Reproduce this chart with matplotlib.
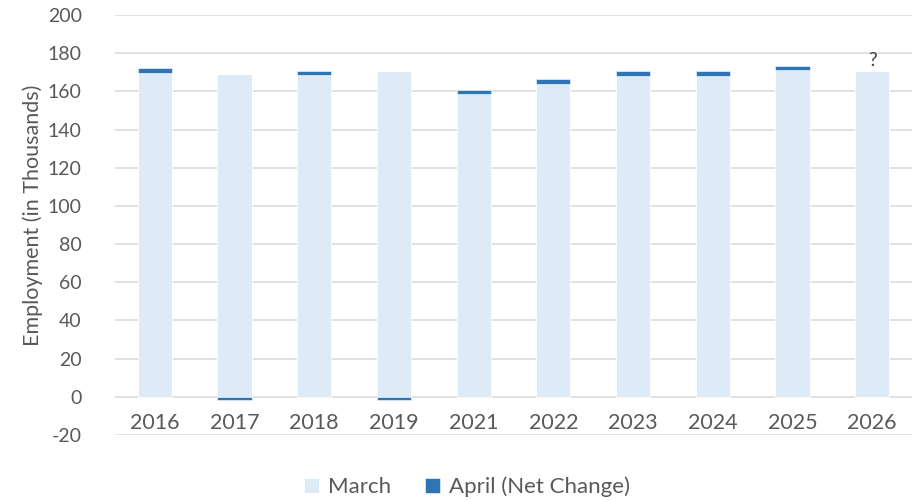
import matplotlib
matplotlib.use("Agg")
import matplotlib.pyplot as plt
import numpy as np

# data
years = ["2016", "2017", "2018", "2019", "2021", "2022", "2023", "2024", "2025", "2026"]
march = [169.6, 169.2, 168.4, 170.6, 158.5, 164.0, 168.1, 168.1, 171.1, 170.6]
april = [2.4, -1.8, 2.4, -1.8, 2.4, 2.4, 2.4, 2.4, 2.4, 0.0]

light = "#DEEAF6"
dark = "#2E75B6"
grey = "#595959"

plt.rcParams['font.family'] = ['Lato', 'DejaVu Sans']
plt.rcParams['axes.unicode_minus'] = False

fig = plt.figure(figsize=(9.18, 5.01), dpi=100)
ax = fig.add_axes([115/918, 1 - 435/501, (912 - 115)/918, (435 - 15)/501])

x = np.arange(len(years))
w = 0.43
ax.bar(x, march, width=w, color=light, edgecolor="white", linewidth=0.6, label="March", zorder=2)
# April stacked on top when positive, below zero when negative
base = [m if a > 0 else 0 for m, a in zip(march, april)]
ax.bar(x, april, width=w, bottom=base, color=dark, edgecolor="white", linewidth=0.4,
       label="April (Net Change)", zorder=3)

ax.text(x[-1], march[-1] + 1, "?", ha="center", va="bottom", fontsize=14, color="#404040")

ax.set_xlim(-0.5, len(years) - 0.5)
ax.set_ylim(-20, 200)
ax.set_yticks(np.arange(-20, 201, 20))
ax.yaxis.grid(True, color="#D9D9D9", linewidth=1.1, zorder=0)
ax.set_axisbelow(True)
for s in ax.spines.values():
    s.set_visible(False)
ax.tick_params(axis="y", length=0, pad=24, labelsize=14, labelcolor=grey)
ax.set_xticks([])

# category labels sit just above the -20 line
for xi, yr in zip(x, years):
    ax.text(xi, 0.004, yr, transform=ax.get_xaxis_transform(), ha="center", va="bottom",
            fontsize=15.5, color=grey)

fig.text(33/918, 1 - 215/501, "Employment (in Thousands)", rotation=90, ha="center", va="center",
         fontsize=15.5, color=grey)

fig.legend(loc="center", bbox_to_anchor=(467/918, 1 - 487/501), ncol=2, frameon=False,
           fontsize=16, labelcolor=grey, handlelength=0.7, handleheight=0.7,
           handletextpad=0.4, columnspacing=1.5)

fig.savefig("out.png", dpi=100)
